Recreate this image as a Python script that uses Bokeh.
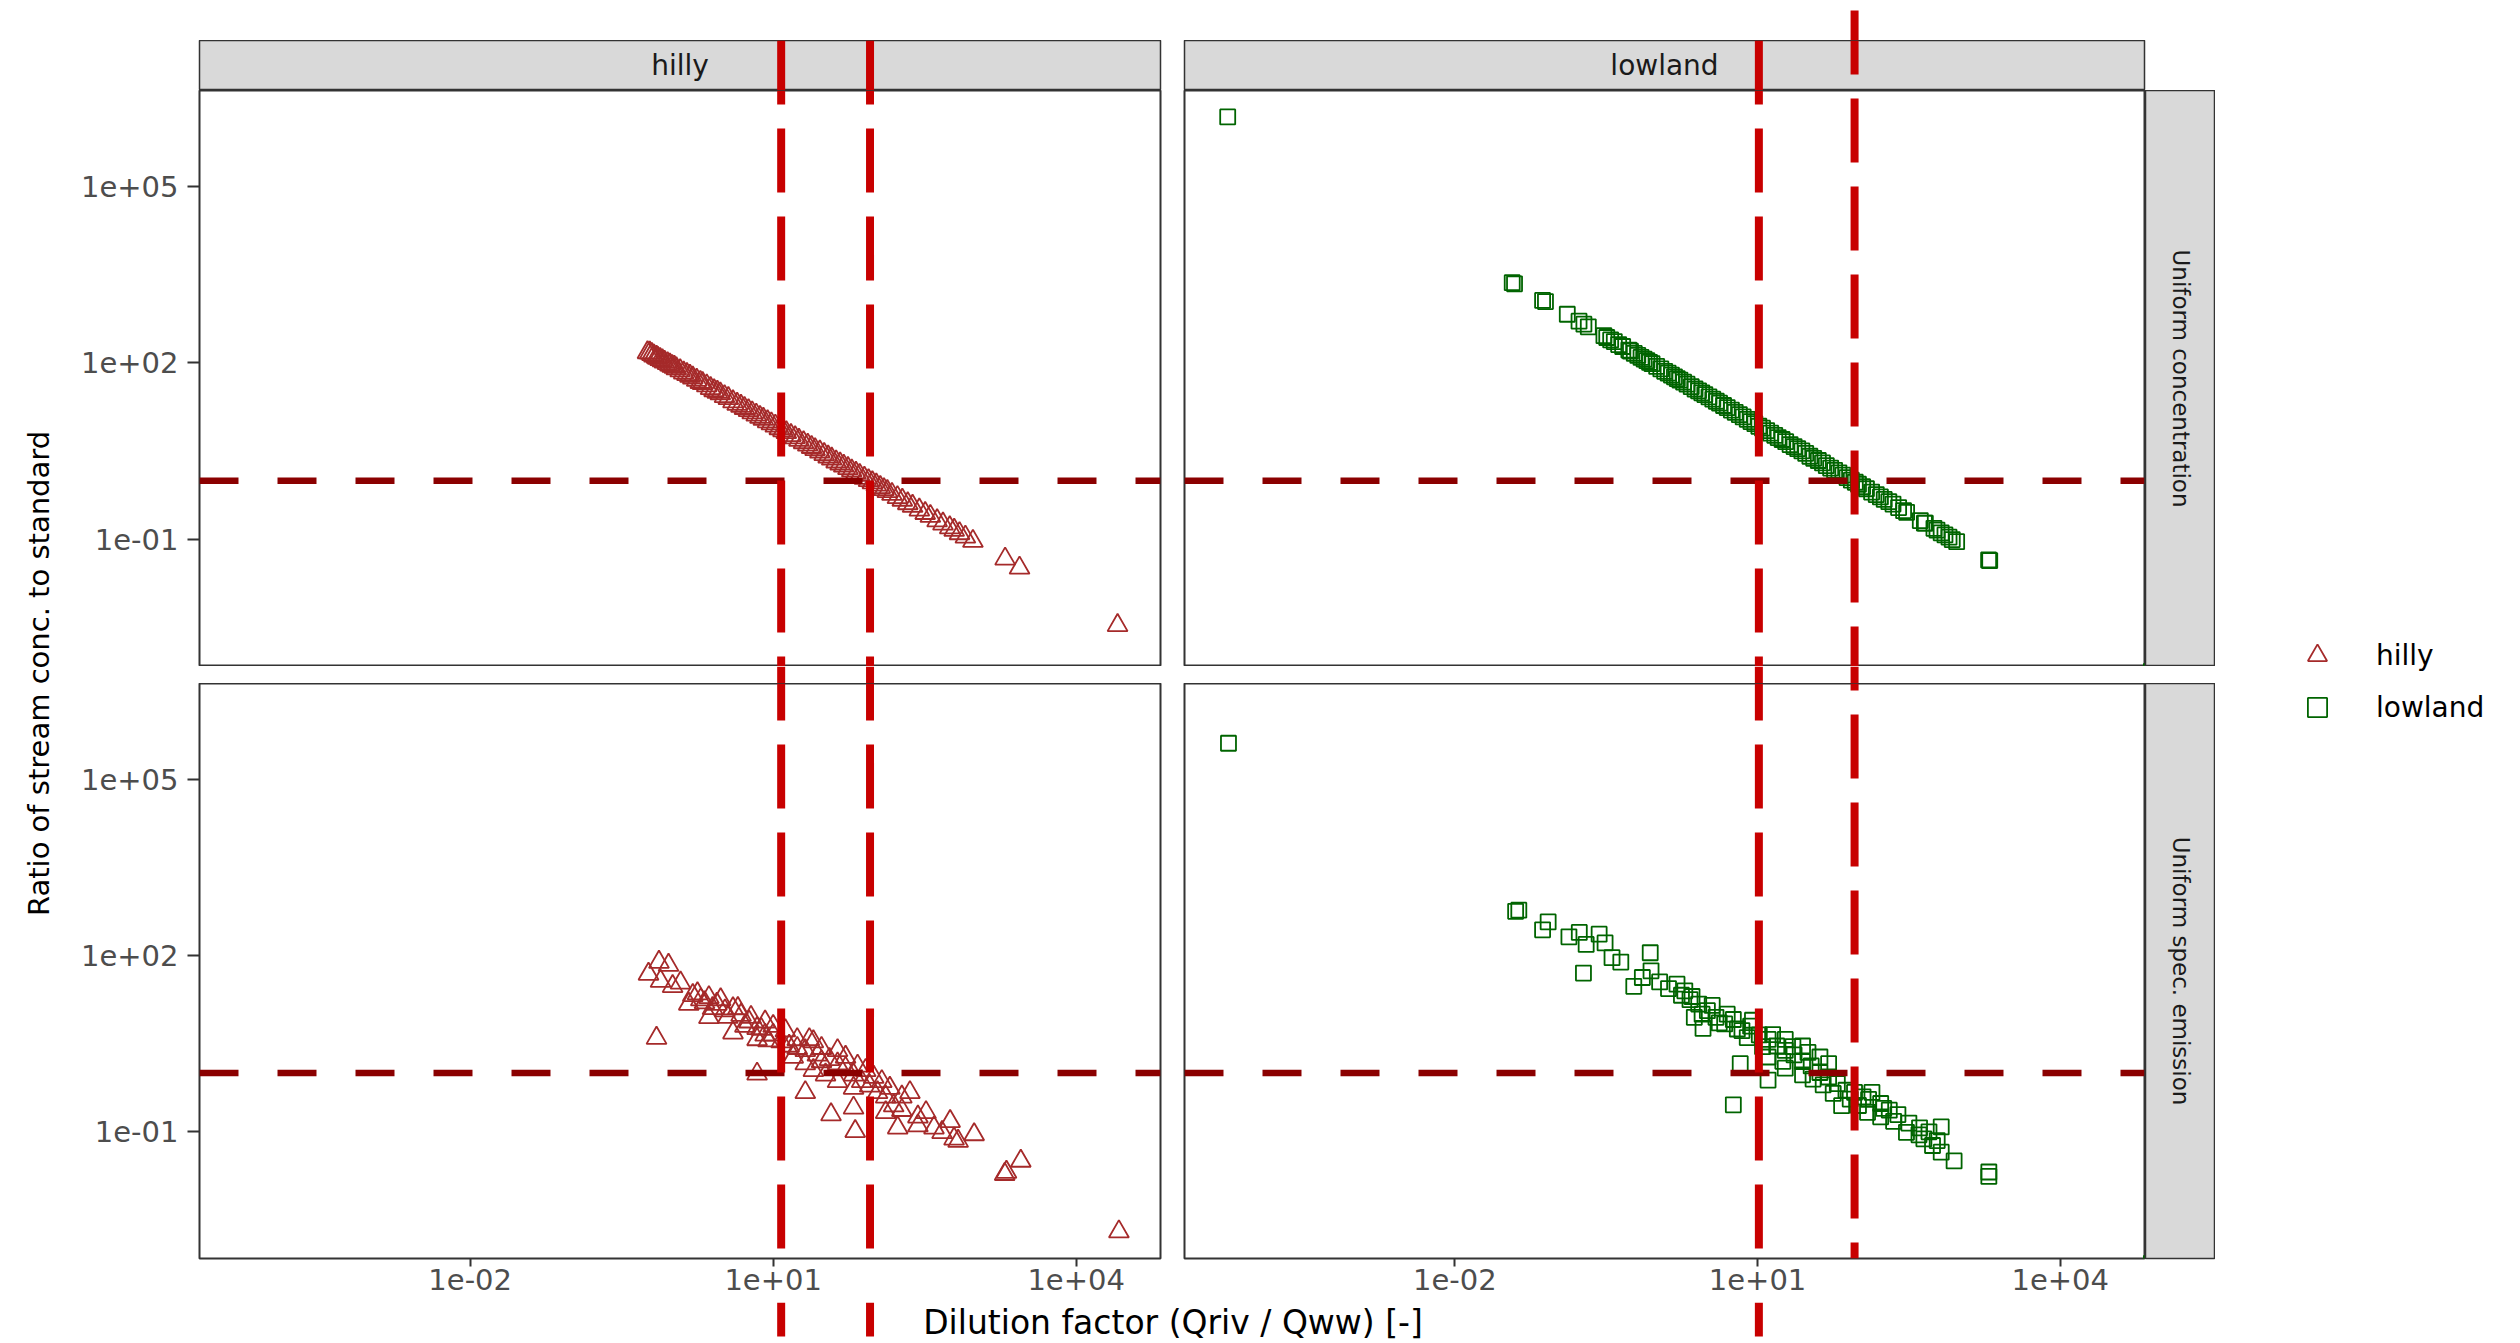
import math
from bokeh.plotting import figure
from bokeh.layouts import row, column
from bokeh.models import Range1d, Span, Label, FixedTicker, Legend, LegendItem
from bokeh.embed import file_html
from bokeh.resources import INLINE

# ------------------------------------------------------------------ data
regions = ["hilly", "lowland"]
scenarios = ["Uniform concentration", "Uniform spec. emission"]
x_title = "Dilution factor (Qriv / Qww) [-]"
y_title = "Ratio of stream conc. to standard"
x_ticks = [1e-2, 1e1, 1e4]
x_tick_labels = ["1e-02", "1e+01", "1e+04"]
y_ticks = [1e-1, 1e2, 1e5]
y_tick_labels = ["1e-01", "1e+02", "1e+05"]
ratio_threshold = 1.0
dilution_marks_hilly = [12.0, 91.0]
dilution_marks_lowland = [10.3, 91.5]

hilly_conc_dilution = [0.57, 0.60, 0.63, 0.66, 0.70, 0.72, 0.76, 0.80, 0.84, 0.90,
                       0.95, 1.0, 1.05, 1.1, 1.2, 1.3, 1.4, 1.5, 1.6, 1.75,
                       1.9, 2.0, 2.2, 2.4, 2.6, 2.8, 3.0, 3.3, 3.6, 4.0,
                       4.4, 4.8, 5.2, 5.7, 6.2, 6.8, 7.4, 8.0, 8.8, 9.6,
                       10.5, 11.5, 12.5, 13.5, 15, 16.5, 18, 20, 22, 24,
                       26, 29, 32, 35, 38, 42, 46, 50, 55, 60,
                       66, 72, 80, 88, 96, 105, 115, 125, 135, 150,
                       170, 190, 215, 240, 280, 320, 360, 420, 480, 560,
                       620, 700, 800, 950, 1980, 2750, 25700, 80000]
hilly_conc_ratio = [150, 148, 140, 132, 126, 121, 115, 110, 104, 98,
                    93, 88, 85, 80, 74, 68, 64, 60, 56, 51,
                    47, 45, 41, 37, 34, 32, 30, 27, 25, 22,
                    20, 18.5, 17, 15.6, 14.3, 13.1, 12.0, 11.1, 10.1, 9.3,
                    8.5, 7.7, 7.1, 6.6, 5.9, 5.4, 4.9, 4.45, 4.05, 3.7,
                    3.4, 3.1, 2.8, 2.55, 2.35, 2.1, 1.93, 1.78, 1.62, 1.48,
                    1.35, 1.24, 1.11, 1.01, 0.93, 0.85, 0.77, 0.71, 0.66, 0.59,
                    0.52, 0.47, 0.41, 0.37, 0.32, 0.28, 0.25, 0.21, 0.185, 0.16,
                    0.145, 0.127, 0.111, 0.094, 0.047, 0.033, 0.0035, 0.00058]

lowland_conc_dilution = [5.6e-5, 0.037, 0.039, 0.074, 0.079, 0.13, 0.17, 0.19, 0.21, 0.30,
                         0.32, 0.35, 0.38, 0.42, 0.46, 0.53, 0.55, 0.6, 0.65, 0.7,
                         0.75, 0.8, 0.85, 0.9, 1.0, 1.1, 1.2, 1.3, 1.4, 1.5,
                         1.6, 1.7, 1.85, 2.0, 2.2, 2.4, 2.6, 2.8, 3.0, 3.3,
                         3.6, 3.9, 4.2, 4.6, 5.0, 5.5, 6.0, 6.6, 7.2, 7.9,
                         8.6, 9.4, 10.3, 11.2, 12.3, 13.5, 14.8, 16, 17.5, 19,
                         21, 23, 25, 27.5, 30, 33, 36, 40, 44, 48,
                         53, 58, 64, 70, 77, 85, 93, 100, 110, 120,
                         135, 150, 165, 180, 200, 220, 250, 280, 300, 410,
                         450, 460, 560, 600, 660, 720, 790, 850, 940, 1950,
                         2000, 80000]
lowland_conc_ratio = [1.5e6, 2300, 2200, 1150, 1100, 670, 510, 455, 410, 290,
                      270, 245, 230, 205, 190, 165, 158, 145, 134, 124,
                      116, 109, 102, 97, 87, 79, 72, 67, 62, 58,
                      54, 51, 47, 43.5, 39.5, 36, 33.5, 31, 29, 26.4,
                      24.2, 22.3, 20.7, 18.9, 17.4, 15.8, 14.5, 13.2, 12.1, 11.0,
                      10.1, 9.3, 8.4, 7.8, 7.1, 6.4, 5.9, 5.4, 5.0, 4.6,
                      4.1, 3.8, 3.5, 3.2, 2.9, 2.6, 2.4, 2.2, 2.0, 1.8,
                      1.64, 1.5, 1.36, 1.24, 1.13, 1.02, 0.94, 0.87, 0.79, 0.73,
                      0.64, 0.58, 0.53, 0.48, 0.44, 0.40, 0.35, 0.31, 0.29, 0.21,
                      0.19, 0.19, 0.155, 0.145, 0.13, 0.12, 0.11, 0.10, 0.092, 0.045,
                      0.044, 0.00058]

hilly_emis_dilution = [0.583, 0.74, 0.92, 0.767, 1.01, 1.21, 0.70, 1.60, 1.92, 2.31,
                       1.46, 2.77, 3.33, 2.31, 4.0, 4.81, 5.77, 4.0, 6.93, 8.32,
                       6.93, 10, 12.0, 14.4, 17.3, 20.8, 25.0, 27.4, 30.1, 36.1,
                       43.4, 52.1, 62.5, 75.2, 90.2, 108, 130, 156, 188, 226,
                       271, 326, 565, 618, 678, 977, 171, 271, 20.8, 37.4,
                       64.9, 62.5, 6.93, 2040, 1960, 2830, 26500, 470, 391, 130,
                       8.32, 10, 13.2, 17.3, 22.8, 30.1, 43.4, 52.1, 68.5, 82.4,
                       98.9, 119, 143, 188, 62.5, 43.4, 33.0, 25, 20.8, 15.8,
                       1.78, 2.09, 2.51, 3.02, 3.55, 4.47, 5.25, 6.03, 7.59, 8.9,
                       80000]
hilly_emis_ratio = [48.3, 77.1, 68.4, 36.6, 29.8, 34.2, 3.93, 21.0, 17.7, 19.3,
                    14.9, 14.9, 11.5, 8.85, 12.5, 9.66, 7.45, 4.83, 5.75, 4.44,
                    3.72, 4.44, 3.42, 2.88, 3.72, 2.42, 3.42, 2.03, 2.64, 1.71,
                    1.44, 1.21, 0.93, 0.72, 0.605, 0.467, 0.393, 0.278, 0.233, 0.467,
                    0.180, 0.214, 0.151, 0.076, 0.0695, 0.090, 0.117, 0.127, 0.467, 0.196,
                    0.102, 0.255, 0.966, 0.0207, 0.019, 0.0319, 0.002, 0.098, 0.117, 0.214,
                    7.45, 6.27, 5.27, 2.64, 3.72, 1.57, 2.42, 1.87, 1.32, 1.11,
                    0.855, 0.72, 0.555, 0.393, 0.555, 0.72, 0.933, 1.11, 1.44, 1.87,
                    22.4, 15.8, 12.6, 17.8, 8.9, 12.6, 6.3, 8.9, 5.6, 3.55,
                    0.00058]

lowland_emis_dilution = [5.7e-5, 0.040, 0.043, 0.084, 0.074, 0.135, 0.171, 0.269, 0.20, 0.308,
                         0.188, 0.361, 0.441, 0.863, 0.593, 0.721, 0.879, 1.07, 1.31, 1.59,
                         1.76, 2.14, 2.61, 2.36, 3.18, 3.87, 4.72, 5.75, 2.88, 7.0,
                         8.53, 10.4, 12.7, 15.5, 18.8, 23.0, 27.9, 34.0, 6.73, 12.7,
                         5.75, 41.5, 50.6, 61.7, 75.2, 91.4, 68.1, 111, 136, 166,
                         202, 246, 223, 299, 403, 661, 445, 542, 661, 887,
                         1960, 1960, 18.8, 27.9, 41.5, 12.7, 27.9, 18.8, 50.6, 123,
                         166, 82.8, 1.9, 2.24, 2.82, 3.55, 4.17, 5.0, 6.3, 7.9,
                         8.9, 11.2, 14.1, 17.8, 22.4, 31.6, 35.5, 44.7, 56.2, 100,
                         126, 178, 316, 398, 500, 603, 80000]
lowland_emis_ratio = [4.06e5, 562, 589, 372, 273, 207, 246, 230, 154, 163,
                      50, 91.6, 77.1, 111, 29.8, 42.1, 54.6, 35.4, 27.3, 32.4,
                      21.0, 17.7, 14.9, 8.85, 11.5, 8.85, 6.84, 8.13, 5.74, 5.27,
                      6.27, 4.44, 3.72, 2.88, 2.42, 2.03, 1.57, 1.32, 1.44, 0.759,
                      0.288, 1.02, 0.855, 0.661, 0.509, 0.467, 0.278, 0.393, 0.467, 0.303,
                      0.233, 0.196, 0.151, 0.098, 0.117, 0.121, 0.076, 0.0585, 0.0451, 0.0319,
                      0.0207, 0.0174, 3.72, 2.88, 1.87, 1.87, 0.933, 1.21, 1.44, 0.214,
                      0.18, 0.36, 25, 20, 10, 14.1, 7.1, 10, 5.6, 4.0,
                      7.9, 2.8, 4.5, 1.58, 2.8, 2.24, 0.79, 0.63, 0.45, 0.28,
                      0.355, 0.25, 0.141, 0.089, 0.1, 0.071, 0.00058]

# ------------------------------------------------------------------ style
FONT = "DejaVu Sans"
HILLY_COL = "#A52A2A"
LOW_COL = "#006400"
VLINE_COL = "#C80000"
HLINE_COL = "#8B0000"
BORDER_COL = "#333333"
STRIP_FILL = "#D9D9D9"

# layout in px (page origin at top-left of the window)
Y_TITLE_W = 68
L_W, L_BL, L_BR = 1098, 131, 6
R_W, R_BL, R_BR = 1049, 18, 71
L_FRAME_W = L_W - L_BL - L_BR          # 961
R_FRAME_W = R_W - R_BL - R_BR          # 960
R_STRIP_W = 70
R_PANEL_W = R_W - R_STRIP_W
LEG_W = 297
TOP_H, STRIP_H, PANEL1_H, GAP_H, PANEL2_H, AXIS_H, BAND_H = 40, 50, 576, 17, 575, 44, 40
TOTAL_H = TOP_H + STRIP_H + PANEL1_H + GAP_H + PANEL2_H + AXIS_H + BAND_H

L_FRAME_LEFT = Y_TITLE_W + L_BL                 # 199
R_FRAME_LEFT = Y_TITLE_W + L_W + R_BL           # 1184
R_FRAME_RIGHT = R_FRAME_LEFT + R_FRAME_W        # 2144
BAND_SPLIT = 1500                               # where the bottom band changes column
TITLE_CENTER = 1172.5

frame_top = {}
_acc = 0
for name, h in [("top", TOP_H), ("strip", STRIP_H), ("p1", PANEL1_H), ("gap", GAP_H),
                ("p2", PANEL2_H + AXIS_H), ("band", BAND_H)]:
    frame_top[name] = _acc
    _acc += h

DASH_ON, DASH_OFF = 64, 24
VLINE_START = {"L": 40, "R1": 40, "R2": 10}

LOG_LO, LOG_HI = -4.68, 4.835
x_lo, x_hi = 10 ** LOG_LO, 10 ** LOG_HI
y_lo, y_hi = 10 ** -3.155, 10 ** 6.625
xr = Range1d(x_lo, x_hi)
yr = Range1d(y_lo, y_hi)
x_mid = math.sqrt(x_lo * x_hi)
DEC_PER_PX_L = (LOG_HI - LOG_LO) / L_FRAME_W
DEC_PER_PX_R = (LOG_HI - LOG_LO) / R_FRAME_W


def make_fig(w, h, bl=0, br=0, bt=0, bb=0, x_range=None, y_range=None,
             xlog=False, ylog=False, xloc=None, yloc=None):
    p = figure(width=w, height=h,
               x_range=x_range if x_range is not None else Range1d(0, 1),
               y_range=y_range if y_range is not None else Range1d(0, 1),
               x_axis_type="log" if xlog else "linear",
               y_axis_type="log" if ylog else "linear",
               x_axis_location=xloc, y_axis_location=yloc,
               toolbar_location=None, output_backend="svg", title=None,
               min_border_left=bl, min_border_right=br,
               min_border_top=bt, min_border_bottom=bb)
    p.outline_line_color = None
    p.background_fill_color = "white"
    p.border_fill_color = "white"
    for g in p.grid:
        g.visible = False
    return p


def add_vline(p, x, row_name, start):
    off = (frame_top[row_name] - start) % (DASH_ON + DASH_OFF)
    p.add_layout(Span(location=x, dimension="height", line_color=VLINE_COL,
                      line_width=8, line_dash=f"{DASH_ON} {DASH_OFF}",
                      line_dash_offset=off))


def style_axis(ax, ticks, labels, tick_len, standoff):
    ax.ticker = FixedTicker(ticks=ticks)
    ax.major_label_overrides = dict(zip(ticks, labels))
    ax.major_tick_out = tick_len
    ax.major_tick_in = 0
    ax.major_tick_line_color = BORDER_COL
    ax.major_tick_line_width = 2
    ax.minor_tick_line_color = None
    ax.axis_line_color = None
    ax.major_label_text_font = FONT
    ax.major_label_text_font_size = "29px"
    ax.major_label_text_color = "#4D4D4D"
    ax.major_label_standoff = standoff


def panel_fig(w, h, bl, br, bb, xaxis, yaxis, xs, ys, marker, color):
    p = make_fig(w, h, bl, br, 0, bb, xr, yr, True, True,
                 "below" if xaxis else None, "left" if yaxis else None)
    p.outline_line_color = BORDER_COL
    p.outline_line_width = 2
    if xaxis:
        style_axis(p.xaxis[0], x_ticks, x_tick_labels, 8, 2)
    if yaxis:
        style_axis(p.yaxis[0], y_ticks, y_tick_labels, 12, 9)
    p.scatter(xs, ys, marker=marker, size=20 if marker == "triangle" else 15,
              fill_color=None, line_color=color, line_width=1.8)
    p.add_layout(Span(location=ratio_threshold, dimension="width", line_color=HLINE_COL,
                      line_width=6.5, line_dash="39 39"))
    return p


def right_strip(h, bb, text):
    s = make_fig(R_STRIP_W, h, 0, 0, 0, bb)
    s.background_fill_color = STRIP_FILL
    s.outline_line_color = BORDER_COL
    s.outline_line_width = 1.5
    s.add_layout(Label(x=0.5, y=0.5, text=text, angle=-math.pi / 2, text_align="center",
                       text_baseline="middle", text_font=FONT, text_font_size="23px",
                       text_color="#1A1A1A"))
    return s


def top_strip(w, bl, br, text):
    s = make_fig(w, STRIP_H, bl, br, 0, 0, xr, None, True)
    s.background_fill_color = STRIP_FILL
    s.outline_line_color = BORDER_COL
    s.outline_line_width = 1.5
    s.add_layout(Label(x=x_mid, y=0.5, text=text, text_align="center", text_baseline="middle",
                       text_font=FONT, text_font_size="28px", text_color="#1A1A1A"))
    return s


# ------------------------------------------------------------------ left column (hilly)
L0 = make_fig(L_W, TOP_H, L_BL, L_BR, 0, 0, xr, None, True)
L1 = top_strip(L_W, L_BL, L_BR, regions[0])
L2 = panel_fig(L_W, PANEL1_H, L_BL, L_BR, 0, False, True,
               hilly_conc_dilution, hilly_conc_ratio, "triangle", HILLY_COL)
L3 = make_fig(L_W, GAP_H, L_BL, L_BR, 0, 0, xr, None, True)
L4 = panel_fig(L_W, PANEL2_H + AXIS_H, L_BL, L_BR, AXIS_H, True, True,
               hilly_emis_dilution, hilly_emis_ratio, "triangle", HILLY_COL)
for fig_, rn in [(L1, "strip"), (L2, "p1"), (L3, "gap"), (L4, "p2")]:
    for xv in dilution_marks_hilly:
        add_vline(fig_, xv, rn, VLINE_START["L"])

# ------------------------------------------------------------------ right column (lowland)
R0 = make_fig(R_W, TOP_H, R_BL, R_BR, 0, 0, xr, None, True)
R1 = top_strip(R_W, R_BL, R_BR, regions[1])
R2p = panel_fig(R_PANEL_W, PANEL1_H, R_BL, 1, 0, False, False,
                lowland_conc_dilution, lowland_conc_ratio, "square", LOW_COL)
R2s = right_strip(PANEL1_H, 0, scenarios[0])
R3 = make_fig(R_W, GAP_H, R_BL, R_BR, 0, 0, xr, None, True)
R4p = panel_fig(R_PANEL_W, PANEL2_H + AXIS_H, R_BL, 1, AXIS_H, True, False,
                lowland_emis_dilution, lowland_emis_ratio, "square", LOW_COL)
R4s = right_strip(PANEL2_H + AXIS_H, AXIS_H, scenarios[1])

add_vline(R0, dilution_marks_lowland[1], "top", VLINE_START["R2"])
for fig_, rn in [(R1, "strip"), (R2p, "p1"), (R3, "gap"), (R4p, "p2")]:
    add_vline(fig_, dilution_marks_lowland[0], rn, VLINE_START["R1"])
    add_vline(fig_, dilution_marks_lowland[1], rn, VLINE_START["R2"])

# ------------------------------------------------------------------ bottom band (x title)
# left part: same scale as the hilly panels, frame extended to the right
band_l_range = Range1d(x_lo, 10 ** (LOG_LO + (BAND_SPLIT - L_FRAME_LEFT) * DEC_PER_PX_L))
B_L = make_fig(BAND_SPLIT - Y_TITLE_W, BAND_H, L_BL, 0, 0, 0,
               band_l_range, Range1d(0, BAND_H), True)
for xv in dilution_marks_hilly:
    add_vline(B_L, xv, "band", VLINE_START["L"])
title_x = 10 ** (LOG_LO + (TITLE_CENTER - L_FRAME_LEFT) * DEC_PER_PX_L)
B_L.add_layout(Label(x=title_x, y=BAND_H / 2, text=x_title, text_align="center",
                     text_baseline="middle", text_font=FONT, text_font_size="33px",
                     text_color="black"))
# right part: same scale as the lowland panels, frame extended to the left
band_r_range = Range1d(10 ** (LOG_HI - (R_FRAME_RIGHT - BAND_SPLIT) * DEC_PER_PX_R), x_hi)
B_R = make_fig(Y_TITLE_W + L_W + R_W - BAND_SPLIT, BAND_H, 0, R_BR, 0, 0,
               band_r_range, Range1d(0, BAND_H), True)
add_vline(B_R, dilution_marks_lowland[0], "band", VLINE_START["R1"])

# ------------------------------------------------------------------ y title
YT = make_fig(Y_TITLE_W, TOTAL_H, x_range=Range1d(0, Y_TITLE_W), y_range=Range1d(0, TOTAL_H))
YT.add_layout(Label(x=38, y=TOTAL_H - 673, text=y_title, angle=math.pi / 2,
                    text_align="center", text_baseline="middle", text_font=FONT,
                    text_font_size="29px", text_color="black"))

# ------------------------------------------------------------------ legend
LG = make_fig(LEG_W, TOTAL_H)
nan = float("nan")
r_h = LG.scatter([nan], [nan], marker="triangle", size=20, fill_color=None,
                 line_color=HILLY_COL, line_width=1.8)
r_l = LG.scatter([nan], [nan], marker="square", size=15, fill_color=None,
                 line_color=LOW_COL, line_width=1.8)
legend = Legend(items=[LegendItem(label=regions[0], renderers=[r_h]),
                       LegendItem(label=regions[1], renderers=[r_l])],
                location=(78, TOTAL_H - 731), glyph_width=48, glyph_height=48,
                label_height=48, label_standoff=35, spacing=4, padding=0, margin=0,
                border_line_color=None, background_fill_alpha=0,
                label_text_font=FONT, label_text_font_size="28px",
                label_text_color="black")
LG.add_layout(legend)

upper = row(column(L0, L1, L2, L3, L4),
            column(R0, R1, row(R2p, R2s), R3, row(R4p, R4s)))
middle = column(upper, row(B_L, B_R))
layout = row(YT, middle, LG)

open("out.html", "w").write(file_html(layout, INLINE, title="Dilution factor vs ratio"))
